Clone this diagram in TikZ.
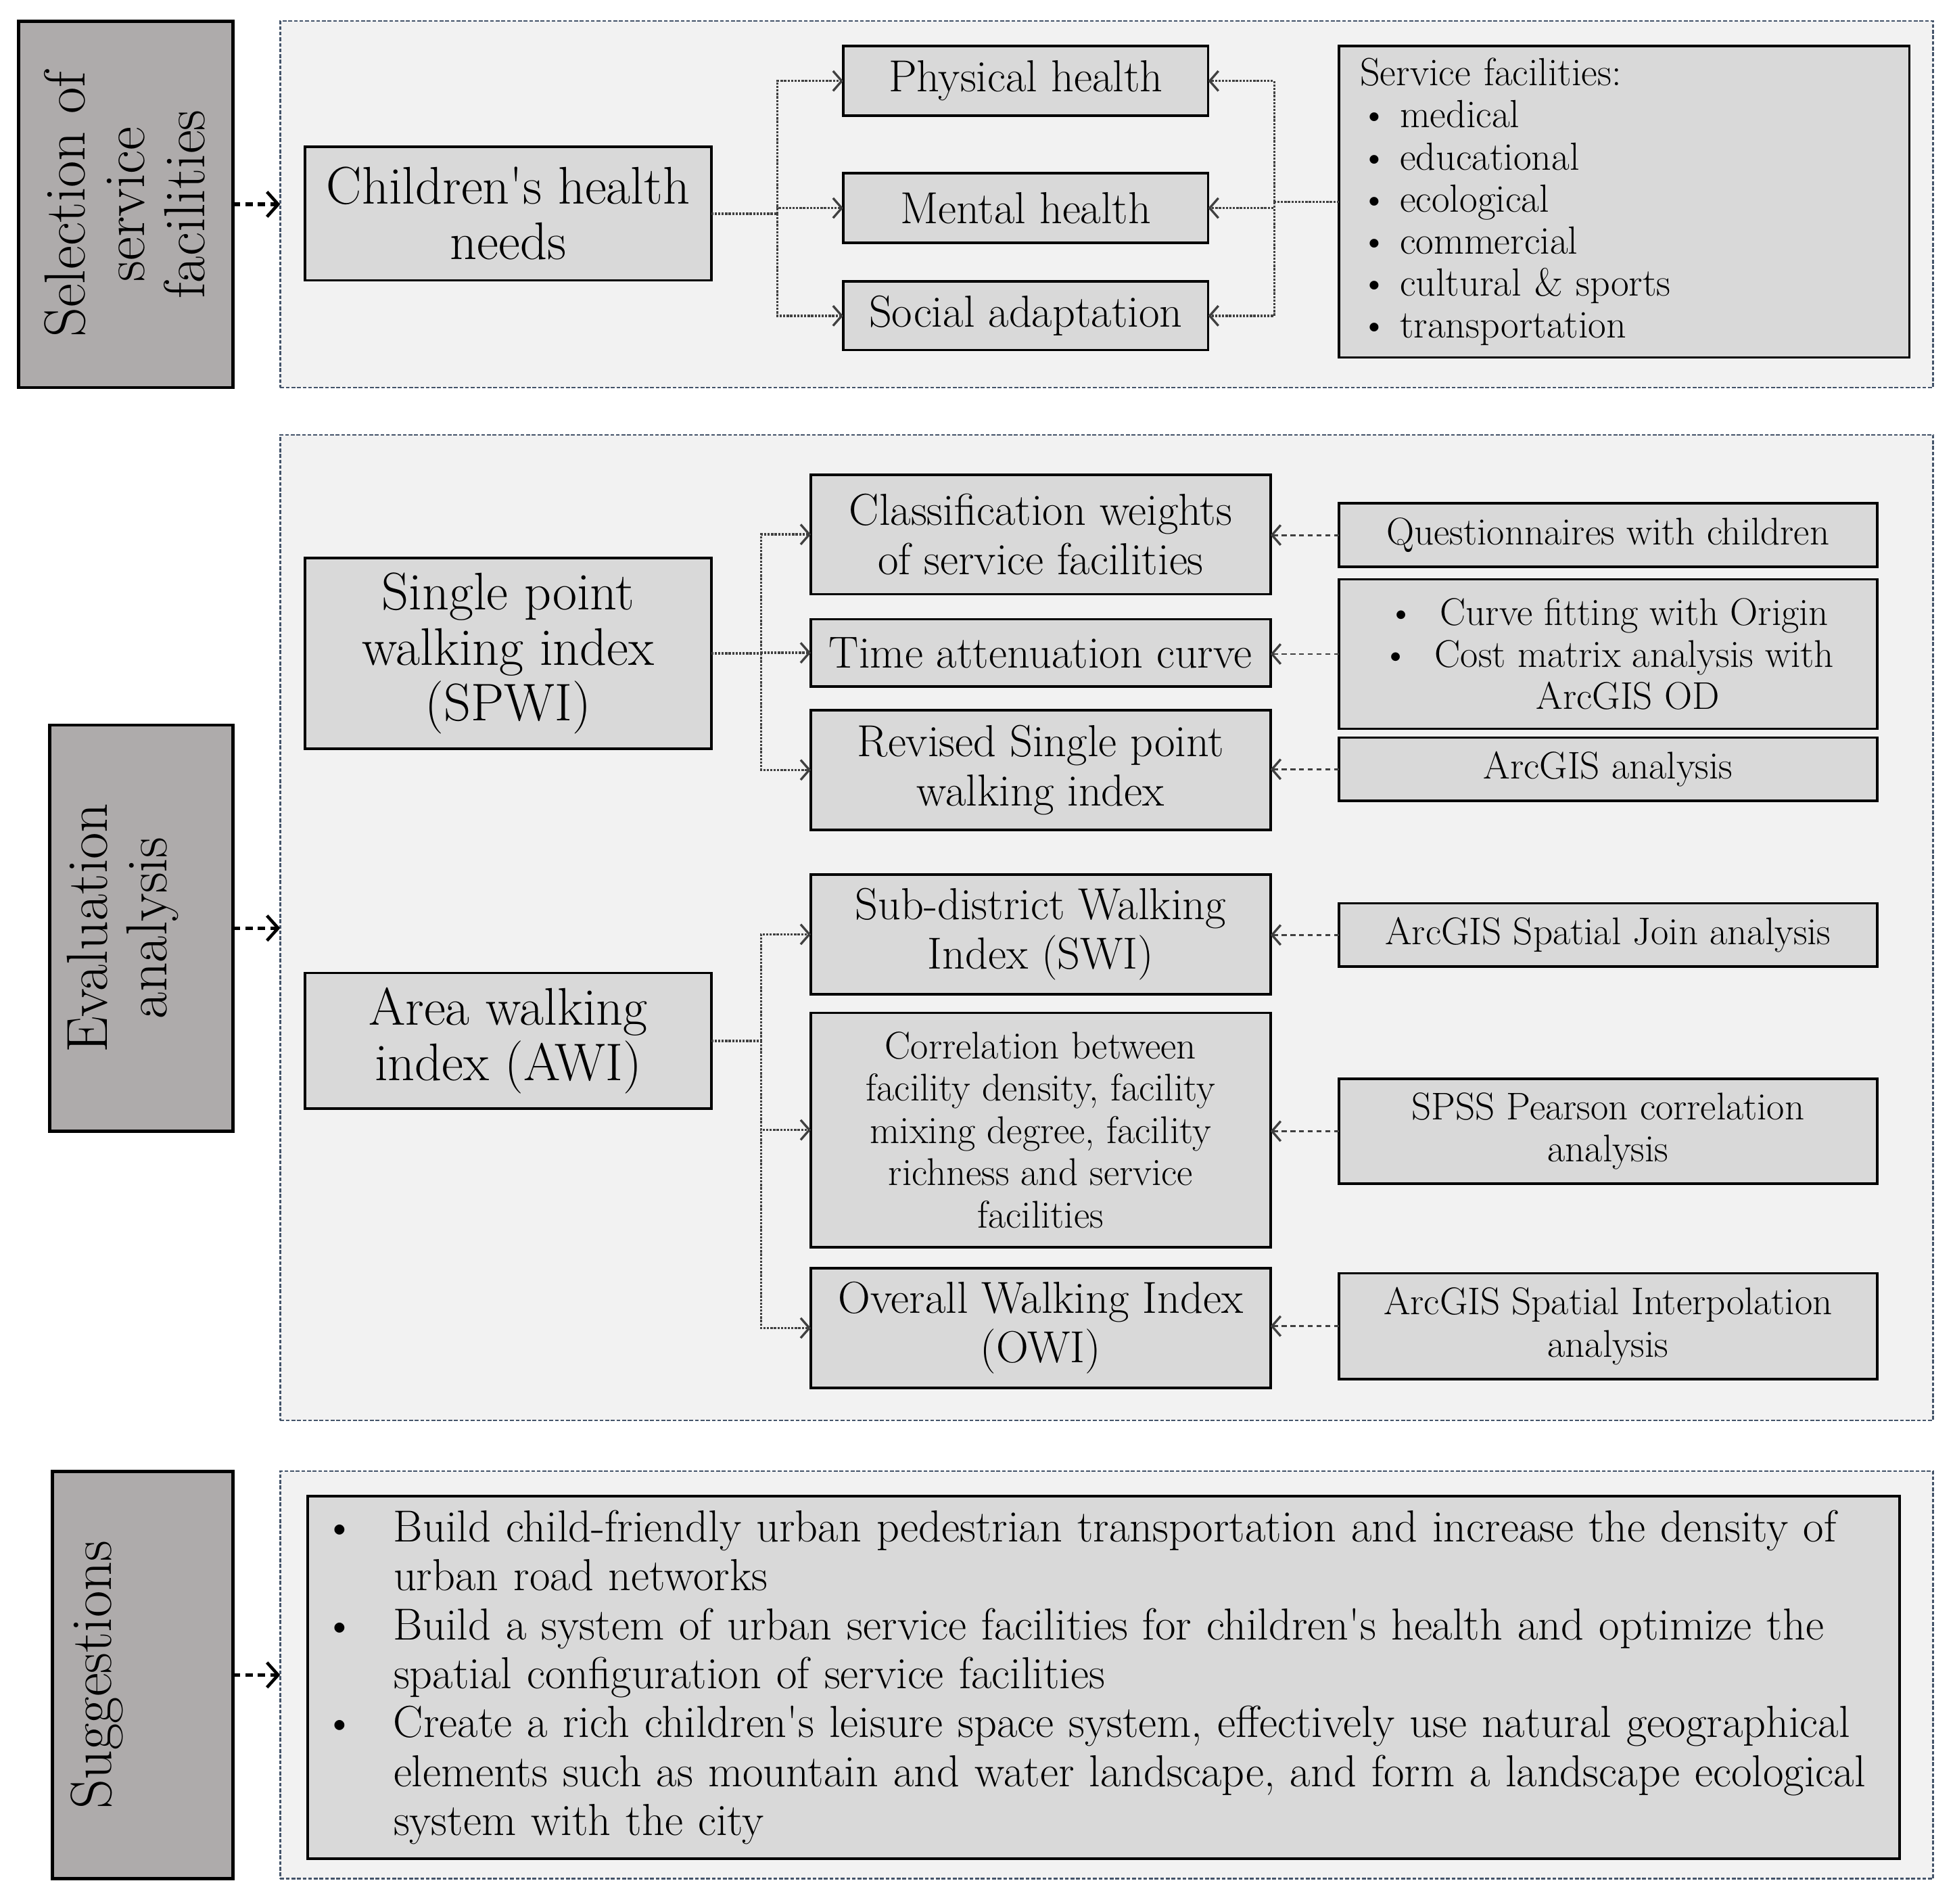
\documentclass[tikz,border=0pt]{standalone}
\usetikzlibrary{arrows.meta}
\definecolor{labg}{HTML}{AEABAB}
\definecolor{boxg}{HTML}{D9D9D9}
\definecolor{contf}{HTML}{F2F2F2}
\definecolor{contd}{HTML}{44546A}
\definecolor{conn}{HTML}{404040}
\newcommand{\fsz}[2]{\fontsize{#1}{#2}\selectfont}
\newcommand{\bul}[1]{\makebox[#1][l]{\textbullet}}
\newcommand{\apo}{\textquotesingle}
\begin{document}
\begin{tikzpicture}[x=1pt,y=-1pt,
 labbox/.style={draw=black, line width=2.5pt, fill=labg, inner sep=0pt, outer sep=0pt},
 cont/.style={draw=contd, line width=1.2pt, dash pattern=on 3pt off 1.5pt, fill=contf, inner sep=0pt, outer sep=0pt},
 gbox/.style={draw=black, line width=2pt, fill=boxg, inner sep=0pt, outer sep=0pt, align=center},
 labtext/.style={rotate=90, align=center, font=\fsz{46.5}{48}},
 bigt/.style={font=\fsz{42.5}{44.5}},
 midt/.style={font=\fsz{36}{39.5}},
 smlt/.style={font=\fsz{31}{34}},
 tip/.style={-{Straight Barb[length=7pt,width=16pt,line width=1.8pt]}},
 dotln/.style={draw=conn, line width=1.8pt, densely dotted},
 dashln/.style={draw=conn, line width=1.6pt, dash pattern=on 4pt off 3pt},
 secarrow/.style={draw=black, line width=2.8pt, dash pattern=on 6pt off 4pt, -{Straight Barb[length=9pt,width=20pt,line width=2.5pt]}},
]
\fill[white] (0,0) rectangle (1568,1528);
\useasboundingbox (0,0) rectangle (1568,1528);

% ---------------- Section 1 ----------------
\node[cont, minimum width=1327pt, minimum height=294pt] (c1) at (888.5,164) {};
\node[labbox, minimum width=172pt, minimum height=294pt] (l1) at (101,164) {};
\node[labtext] (t1) at (100,164) {Selection of\\service\\facilities};

\node[gbox, bigt, minimum width=326pt, minimum height=107pt] (chn) at (408,171.5) {Children\apo s health\\needs};
\node[gbox, midt, minimum width=293pt, minimum height=56pt] (ph) at (823.5,65) {Physical health};
\node[gbox, midt, minimum width=293pt, minimum height=56pt] (mh) at (823.5,167) {Mental health};
\node[gbox, midt, minimum width=293pt, minimum height=55pt] (sa) at (823.5,253.5) {Social adaptation};
\node[gbox, font=\fsz{31.5}{33.7}, minimum width=458pt, minimum height=250pt, align=left, inner xsep=17pt, text width=424pt] (sf) at (1304,162)
 {Service facilities:\\
  \bul{32pt}medical\\
  \bul{32pt}educational\\
  \bul{32pt}ecological\\
  \bul{32pt}commercial\\
  \bul{32pt}cultural \& sports\\
  \bul{32pt}transportation};

\coordinate (j1) at (624,171.5);
\coordinate (j2) at (1023,162);
\draw[dotln] (chn.east) -- (j1);
\draw[dotln, tip] (j1) |- (ph.west);
\draw[dotln, tip] (j1) |- (mh.west);
\draw[dotln, tip] (j1) |- (sa.west);
\draw[dotln] (sf.west) -- (j2);
\draw[dotln, tip] (j2) |- (ph.east);
\draw[dotln, tip] (j2) |- (mh.east);
\draw[dotln, tip] (j2) |- (sa.east);
\draw[secarrow] (l1.east) -- (l1.east -| c1.west);

% ---------------- Section 2 ----------------
\node[cont, minimum width=1327pt, minimum height=791pt] (c2) at (888.5,744.5) {};
\node[labbox, minimum width=147pt, minimum height=326pt] (l2) at (113.5,745) {};
\node[labtext] (t2) at (98.5,745) {Evaluation\\analysis};

\node[gbox, bigt, minimum width=326pt, minimum height=153pt] (spwi) at (408,524.5) {Single point\\walking index\\(SPWI)};
\node[gbox, bigt, minimum width=326pt, minimum height=109pt] (awi) at (408,835.5) {Area walking\\index (AWI)};

\node[gbox, midt, minimum width=369pt, minimum height=96pt] (cw) at (835.5,429) {Classification weights\\of service facilities};
\node[gbox, midt, minimum width=369pt, minimum height=54pt] (tac) at (835.5,524) {Time attenuation curve};
\node[gbox, midt, minimum width=369pt, minimum height=96pt] (rsp) at (835.5,618) {Revised Single point\\walking index};
\node[gbox, midt, minimum width=369pt, minimum height=96pt] (swi) at (835.5,750) {Sub-district Walking\\Index (SWI)};
\node[gbox, font=\fsz{31}{34}, minimum width=369pt, minimum height=188pt] (corr) at (835.5,907) {Correlation between\\facility density, facility\\mixing degree, facility\\richness and service\\facilities};
\node[gbox, midt, minimum width=369pt, minimum height=96pt] (owi) at (835.5,1066) {Overall Walking Index\\(OWI)};

\node[gbox, smlt, minimum width=432pt, minimum height=51pt] (qc) at (1291,429.5) {Questionnaires with children};
\node[gbox, font=\fsz{31}{33.5}, minimum width=432pt, minimum height=120pt] (cf) at (1291,525) {\textbullet\hspace{20pt}Curve fitting with Origin\\\textbullet\hspace{20pt}Cost matrix analysis with\\\hspace*{32pt}ArcGIS OD};
\node[gbox, smlt, minimum width=432pt, minimum height=51pt] (aa) at (1291,617.5) {ArcGIS analysis};
\node[gbox, smlt, minimum width=432pt, minimum height=51pt] (sj) at (1291,750.5) {ArcGIS Spatial Join analysis};
\node[gbox, smlt, minimum width=432pt, minimum height=84pt] (spss) at (1291,908) {SPSS Pearson correlation\\analysis};
\node[gbox, smlt, minimum width=432pt, minimum height=85pt] (ip) at (1291,1064.5) {ArcGIS Spatial Interpolation\\analysis};

\coordinate (j3) at (611,524.5);
\coordinate (j4) at (611,835.5);
\draw[dotln] (spwi.east) -- (j3);
\draw[dotln, tip] (j3) |- (cw.west);
\draw[dotln, tip] (j3) |- (tac.west);
\draw[dotln, tip] (j3) |- (rsp.west);
\draw[dotln] (awi.east) -- (j4);
\draw[dotln, tip] (j4) |- (swi.west);
\draw[dotln, tip] (j4) |- (corr.west);
\draw[dotln, tip] (j4) |- (owi.west);

\draw[dashln, tip] (qc.west) -- (qc.west -| cw.east);
\draw[dashln, tip] (cf.west) -- (cf.west -| tac.east);
\draw[dashln, tip] (aa.west) -- (aa.west -| rsp.east);
\draw[dashln, tip] (sj.west) -- (sj.west -| swi.east);
\draw[dashln, tip] (spss.west) -- (spss.west -| corr.east);
\draw[dashln, tip] (ip.west) -- (ip.west -| owi.east);
\draw[secarrow] (l2.east) -- (l2.east -| c2.west);

% ---------------- Section 3 ----------------
\node[cont, minimum width=1327pt, minimum height=327pt] (c3) at (888.5,1344.5) {};
\node[labbox, minimum width=145pt, minimum height=327pt] (l3) at (114.5,1344.5) {};
\node[labtext] (t3) at (78,1344.5) {Suggestions};
\node[gbox, font=\fsz{36}{39.3}, minimum width=1278pt, minimum height=291pt, align=left, inner xsep=13pt, text width=1252pt] (sug) at (886,1346.5)
 {\bul{56pt}Build child-friendly urban pedestrian transportation and increase the density of\\
  \hspace*{56pt}urban road networks\\
  \bul{56pt}Build a system of urban service facilities for children\apo s health and optimize the\\
  \hspace*{56pt}spatial configuration of service facilities\\
  \bul{56pt}Create a rich children\apo s leisure space system, effectively use natural geographical\\
  \hspace*{56pt}elements such as mountain and water landscape, and form a landscape ecological\\
  \hspace*{56pt}system with the city};
\draw[secarrow] (l3.east) -- (l3.east -| c3.west);
\end{tikzpicture}
\end{document}
